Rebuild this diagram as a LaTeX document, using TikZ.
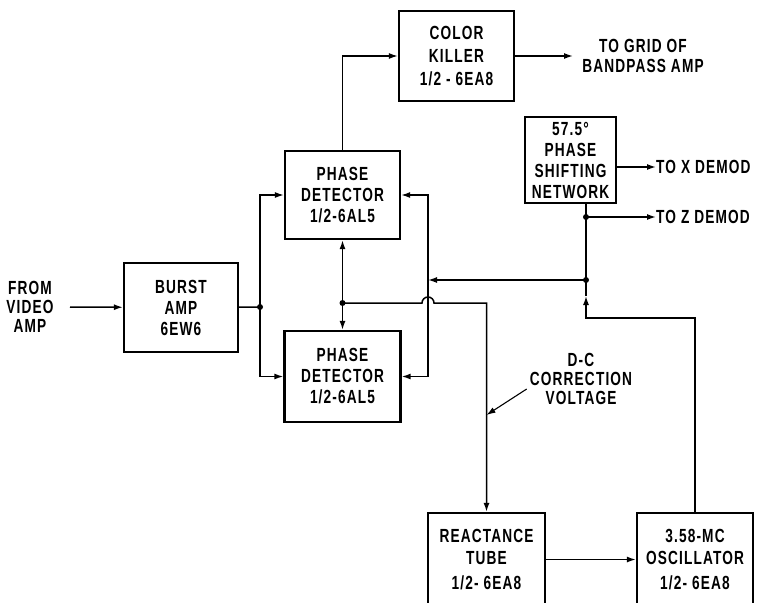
\documentclass[tikz,border=0pt]{standalone}
\usepackage{fontspec}
\setmainfont{Liberation Sans}[FakeStretch=0.72, LetterSpace=6]
\usepackage{tikz}
\usetikzlibrary{arrows.meta,calc}
\tikzset{
  blk/.style={draw, line width=2.2pt, align=center, inner sep=0pt},
  wire/.style={line width=1.5pt},
  sig/.style={wire, -{Latex[length=9pt,width=6pt]}},
  dot/.style={circle, fill, inner sep=0pt, minimum size=6pt},
  lbl/.style={align=center, inner sep=0pt},
}

\begin{document}
\begin{tikzpicture}[x=1pt, y=-1pt, font=\fontsize{19}{21}\selectfont\bfseries]
  \useasboundingbox[fill=white] (0,0) rectangle (773,602);
  % blocks
  \node[blk, minimum width=115, minimum height=90] (ck) at (456.5,56) {COLOR\\[2pt]KILLER\\[2pt]1/2 - 6EA8};
  \node[blk, minimum width=91, minimum height=86] (ps) at (570.5,160) {57.5°\\PHASE\\SHIFTING\\NETWORK};
  \node[blk, minimum width=115, minimum height=88] (pdu) at (342.5,195) {PHASE\\DETECTOR\\1/2-6AL5};
  \node[blk, minimum width=116, minimum height=91] (pdl) at (342.5,376.5) {PHASE\\DETECTOR\\1/2-6AL5};
  \node[blk, minimum width=114, minimum height=89] (ba) at (181,307.5) {BURST\\AMP\\6EW6};
  \node[blk, minimum width=117, minimum height=93] (rt) at (486.5,559.5) {REACTANCE\\[1pt]TUBE\\[4pt]1/2- 6EA8};
  \node[blk, minimum width=116, minimum height=93] (osc) at (695,559.5) {3.58-MC\\[1pt]OSCILLATOR\\[4pt]1/2- 6EA8};
  % labels
  \node[lbl] (vid) at (30,307) {FROM\\[-2pt]VIDEO\\[-2pt]AMP};
  \node[lbl] (grid) at (643,56) {TO GRID OF\\[-1pt]BANDPASS AMP};
  \node[lbl, anchor=west] (xd) at (656,167) {TO X DEMOD};
  \node[lbl, anchor=west] (zd) at (656,217) {TO Z DEMOD};
  \node[lbl] (dc) at (581,379) {D-C\\[-2pt]CORRECTION\\[-2pt]VOLTAGE};
  % junctions
  \coordinate (vin) at (70,307);
  \coordinate (gridin) at (573,56);
  \coordinate (j1) at (260,307);
  \coordinate (j2) at (586,280);
  \coordinate (j3) at (586,217);
  \coordinate (j4) at (342.5,303);
  \coordinate (busM) at (428,280);
  \coordinate (hopL) at (422,303);
  \coordinate (loop) at (586,318);
  \coordinate (up) at (586,296);
  \coordinate (dctip) at (486.5,415);
  % connectors
  \draw[sig] (vin) -- (ba);
  \draw[wire] (ba) -- (j1);
  \draw[sig] (j1) |- (pdu.west);
  \draw[sig] (j1) |- (pdl.west);
  \draw[sig] (pdu.north) |- (ck.west);
  \draw[sig] (ck.east) -- (gridin);
  \draw[sig] (j4) -- (pdu.south);
  \draw[sig] (j4) -- (pdl.north);
  \draw[sig] (j2) -- (busM);
  \draw[sig] (busM) |- (pdu.east);
  \draw[sig] (busM) |- (pdl.east);
  \draw[wire] (ps.south -| j2) -- (j2);
  \draw[sig] (j3) -- (zd.west);
  \draw[sig] (ps.east |- xd.west) -- (xd.west);
  \draw[sig] (osc.north) |- (loop) -- (up);
  \draw[wire] (up) -- (j2);
  \draw[sig] (j4) -- (hopL) arc[start angle=180, end angle=360, radius=6] -- (rt.north |- j4) -- (rt.north);
  \draw[sig, line width=1.1pt] ([xshift=-3pt, yshift=-10pt]dc.west) -- (dctip);
  \draw[sig] (rt) -- (osc);
  \foreach \j in {j1,j2,j3,j4}
    \node[dot] at (\j) {};
\end{tikzpicture}
\end{document}
